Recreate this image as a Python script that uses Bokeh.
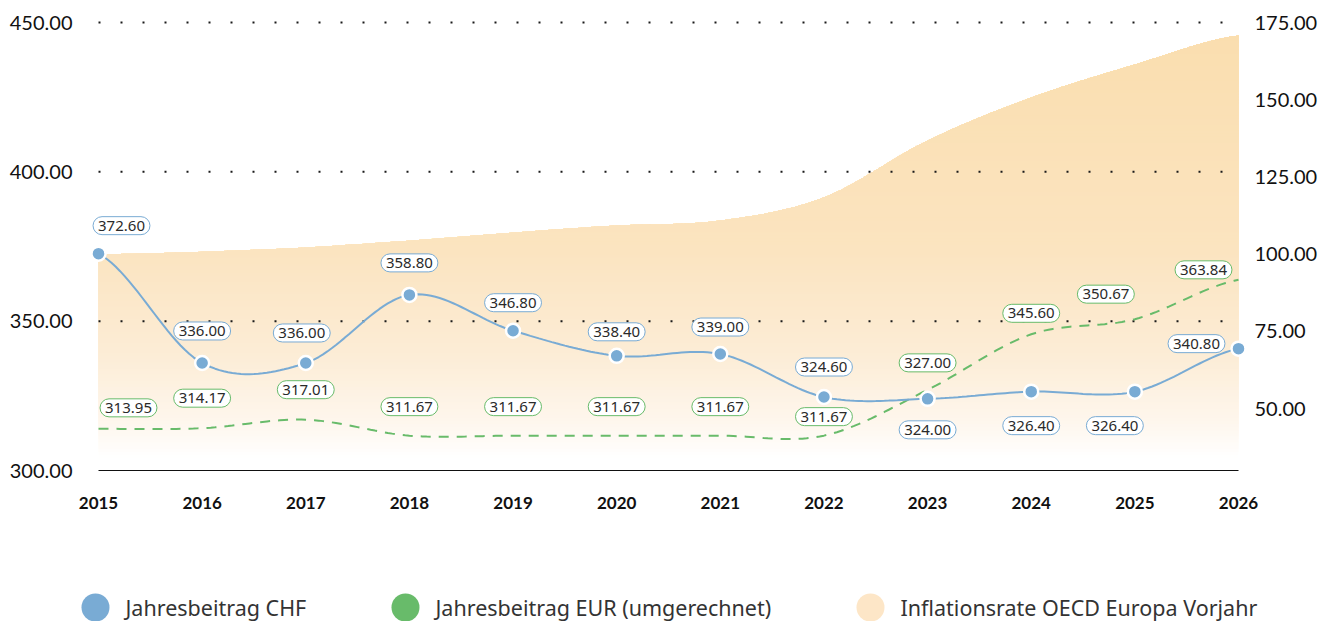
import numpy as np
from bokeh.plotting import figure
from bokeh.models import Range1d, LinearAxis, FixedTicker, NumeralTickFormatter, ColumnDataSource
from bokeh.layouts import column
from bokeh.embed import file_html
from bokeh.resources import INLINE
from bokeh.core.properties import value

# ---------------- data ----------------
years = [2015, 2016, 2017, 2018, 2019, 2020, 2021, 2022, 2023, 2024, 2025, 2026]
chf = [372.60, 336.00, 336.00, 358.80, 346.80, 338.40, 339.00, 324.60, 324.00, 326.40, 326.40, 340.80]
eur = [313.95, 314.17, 317.01, 311.67, 311.67, 311.67, 311.67, 311.67, 327.00, 345.60, 350.67, 363.84]
inflation = [100.0, 100.8, 102.2, 104.4, 107.0, 109.3, 110.9, 118.4, 136.8, 150.7, 161.4, 170.8]
left_ticks = [300, 350, 400, 450]
right_ticks = [50, 75, 100, 125, 150, 175]
grid_values = [350, 400, 450]
series_names = ["Jahresbeitrag CHF", "Jahresbeitrag EUR (umgerechnet)", "Inflationsrate OECD Europa Vorjahr"]

# ---------------- style ----------------
BLUE = "#79abd4"
GREEN = "#68bb6a"
PEACH = "#fde6c7"
TICK_FONT = "Lato"
LABEL_FONT = "Noto Sans"

# layout in pixels
W, H_MAIN, H_LEG = 1330, 540, 81
FRAME_L, FRAME_R = 80, 1270          # frame edges (screen px)
X_FIRST, X_LAST = 98, 1238           # where the first / last year sit
FRAME_T, FRAME_B = 18, 470

# label offsets (pixels) for the value boxes
chf_dx = [23, 0, -4, 0, 0, 0, 0, 0, 0, 0, -20, -42]
chf_dy = [-28, -32, -30, -32, -28, -24, -27, -30, 31, 34, 34, -5]
eur_dx = [30, 0, 0, 0, 0, 0, 0, 0, 0, 0, -29, -35]
eur_dy = [-21, -30, -30, -29, -29, -29, -29, -19, -27, -21, -25, -10]

# gradient stops for the inflation area (right-axis value -> colour)
grad_v = [30.0, 33.9, 46.2, 68.8, 101.2, 170.8, 180.0]
grad_c = [(255, 255, 255), (255, 255, 255), (254, 246, 236), (252, 236, 213),
          (251, 228, 192), (250, 222, 175), (250, 222, 175)]


def smooth(xs, ys, n=24):
    xs = np.asarray(xs, float)
    ys = np.asarray(ys, float)
    m = np.zeros_like(ys)
    m[1:-1] = (ys[2:] - ys[:-2]) / (xs[2:] - xs[:-2])
    m[0] = (ys[1] - ys[0]) / (xs[1] - xs[0]) / 2
    m[-1] = (ys[-1] - ys[-2]) / (xs[-1] - xs[-2]) / 2
    ox, oy = [], []
    t = np.linspace(0, 1, n, endpoint=False)
    h00 = 2 * t**3 - 3 * t**2 + 1
    h10 = t**3 - 2 * t**2 + t
    h01 = -2 * t**3 + 3 * t**2
    h11 = t**3 - t**2
    for i in range(len(xs) - 1):
        h = xs[i + 1] - xs[i]
        ox.extend(xs[i] + t * h)
        oy.extend(h00 * ys[i] + h10 * h * m[i] + h01 * ys[i + 1] + h11 * h * m[i + 1])
    ox.append(xs[-1])
    oy.append(ys[-1])
    return np.array(ox), np.array(oy)


def grad_color(v):
    r = np.interp(v, grad_v, [c[0] for c in grad_c])
    g = np.interp(v, grad_v, [c[1] for c in grad_c])
    b = np.interp(v, grad_v, [c[2] for c in grad_c])
    return "#%02x%02x%02x" % (int(round(r)), int(round(g)), int(round(b)))


sx, chf_s = smooth(years, chf)
_, eur_s = smooth(years, eur)
_, inf_s = smooth(years, inflation)

# ---------------- main figure ----------------
px_year = (X_LAST - X_FIRST) / (years[-1] - years[0])
left_lo, left_hi = 300, 450
right_lo, right_hi = 30, 175
plot_h = FRAME_B - FRAME_T
left_px = (FRAME_B - 22) / (left_hi - left_lo)
right_px = (FRAME_B - 22) / (right_hi - right_lo)

p = figure(width=W, height=H_MAIN, output_backend="svg", toolbar_location=None,
           x_range=Range1d(years[0] - (X_FIRST - FRAME_L) / px_year,
                           years[-1] + (FRAME_R - X_LAST) / px_year),
           y_range=Range1d(left_lo, left_lo + plot_h / left_px),
           min_border_left=FRAME_L, min_border_right=W - FRAME_R,
           min_border_top=FRAME_T, min_border_bottom=H_MAIN - FRAME_B,
           background_fill_color="white", border_fill_color="white")
p.outline_line_color = None
p.extra_y_ranges = {"infl": Range1d(right_lo, right_lo + plot_h / right_px)}
p.xgrid.visible = False
p.ygrid.visible = False

# x axis
xa = p.xaxis[0]
xa.ticker = FixedTicker(ticks=years)
xa.bounds = (years[0], years[-1])
xa.axis_line_color = "#111111"
xa.axis_line_width = 1
xa.major_tick_line_color = None
xa.minor_tick_line_color = None
xa.major_tick_out = 0
xa.major_tick_in = 0
xa.major_label_standoff = 26
xa.major_label_text_font = TICK_FONT
xa.major_label_text_font_style = "bold"
xa.major_label_text_font_size = "17px"
xa.major_label_text_color = "#111111"

# left axis
ya = p.yaxis[0]
ya.ticker = FixedTicker(ticks=left_ticks)
ya.formatter = NumeralTickFormatter(format="0.00")
ya.axis_line_color = None
ya.major_tick_line_color = None
ya.minor_tick_line_color = None
ya.major_tick_out = 0
ya.major_tick_in = 0
ya.major_label_standoff = FRAME_L - 72
ya.major_label_text_font = TICK_FONT
ya.major_label_text_font_size = "20px"
ya.major_label_text_color = "#111111"

# right axis
ra = LinearAxis(y_range_name="infl", ticker=FixedTicker(ticks=right_ticks),
                formatter=NumeralTickFormatter(format="0.00"))
ra.axis_line_color = None
ra.major_tick_line_color = None
ra.minor_tick_line_color = None
ra.major_tick_out = 0
ra.major_tick_in = 0
ra.major_label_standoff = 1254 - FRAME_R
ra.major_label_text_font = TICK_FONT
ra.major_label_text_font_size = "20px"
ra.major_label_text_color = "#111111"
p.add_layout(ra, "right")

# gradient area (stacked bands, each running from its base up to the curve)
edges = np.arange(right_lo, right_hi + 2, 1.0)
top = inf_s.max()
for a in edges:
    if a > top:
        break
    p.varea(x=sx, y1=np.full(len(sx), a), y2=np.maximum(inf_s, a),
            fill_color=grad_color(a + 0.5), fill_alpha=1.0,
            y_range_name="infl", level="image")

# dotted grid lines
p.multi_line(xs=[[years[0], years[-1]] for _ in grid_values], ys=[[g, g] for g in grid_values],
             line_color="#1a1a1a", line_width=2, line_dash="2 20")

# lines
p.line(sx, eur_s, line_color=GREEN, line_width=2, line_dash="10 8")
p.line(sx, chf_s, line_color=BLUE, line_width=2)
p.scatter(years, chf, size=14, fill_color=BLUE, line_color="white", line_width=2.5)

# value boxes
eur_src = ColumnDataSource(dict(x=years, y=eur, t=["%.2f" % v for v in eur], dx=eur_dx, dy=eur_dy))
chf_src = ColumnDataSource(dict(x=years, y=chf, t=["%.2f" % v for v in chf], dx=chf_dx, dy=chf_dy))
for src, col in ((eur_src, GREEN), (chf_src, BLUE)):
    p.text(x="x", y="y", text="t", x_offset="dx", y_offset="dy", source=src,
           text_align="center", text_baseline="middle",
           text_font=value(LABEL_FONT), text_font_size="15px", text_color="#2a2a2a",
           background_fill_color="white", border_line_color=col, border_line_width=1,
           padding=(5, 4), border_radius=10)

# ---------------- legend strip ----------------
lg = figure(width=W, height=H_LEG, output_backend="svg", toolbar_location=None,
            x_range=Range1d(FRAME_L, FRAME_R), y_range=Range1d(H_LEG, 0),
            x_axis_type=None, y_axis_type=None,
            min_border_left=FRAME_L, min_border_right=W - FRAME_R,
            min_border_top=0, min_border_bottom=0)
lg.outline_line_color = None
lg.xgrid.visible = False
lg.ygrid.visible = False
leg_x = [95, 405, 870]
leg_colors = [BLUE, GREEN, PEACH]
lg.scatter(x=leg_x, y=[67] * 3, size=28, fill_color=leg_colors, line_color=None)
lg.text(x=[x + 30 for x in leg_x], y=[67] * 3, text=series_names,
        text_baseline="middle", text_align="left",
        text_font=value(LABEL_FONT), text_font_size="21.5px", text_color="#333333")

layout = column(p, lg, spacing=0)
open("out.html", "w").write(file_html(layout, INLINE))
